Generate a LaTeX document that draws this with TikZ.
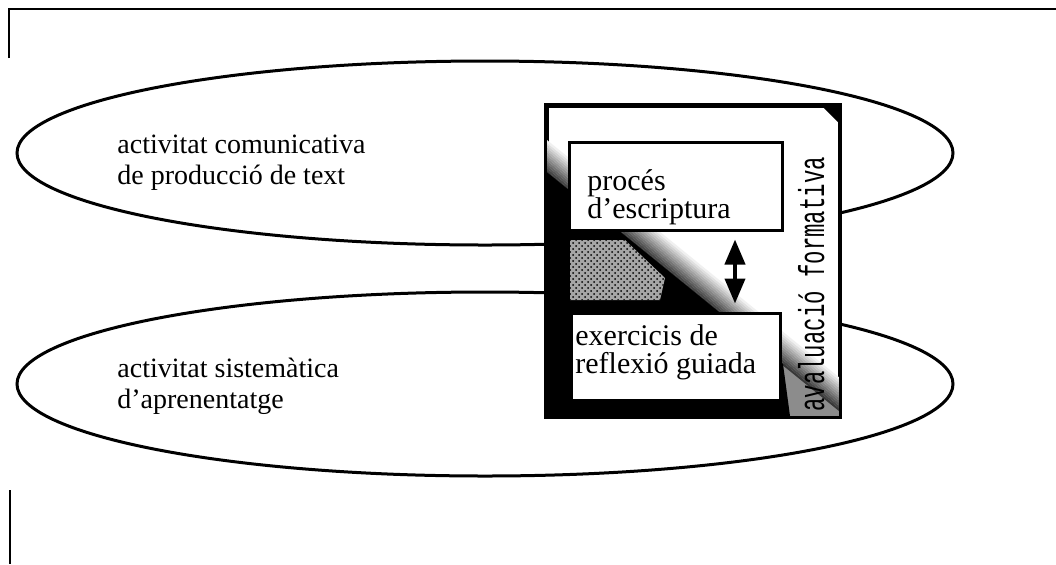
\documentclass[tikz,border=0pt]{standalone}
\usepackage{fontspec}
\setmainfont{Liberation Serif}
\newfontfamily\evalfont[FakeStretch=0.62]{Liberation Mono}
\usepackage{tikz}
\usetikzlibrary{shapes,arrows.meta,patterns}
\usetikzlibrary{positioning}
\tikzstyle{activitat} = [draw, ellipse, line width=1.5pt, inner sep=0pt,
    minimum width=468pt, minimum height=92pt]
\tikzstyle{block} = [rectangle, draw, fill=white, line width=1.5pt, inner sep=0pt]
\tikzstyle{ellipse text} = [align=left, anchor=base west, inner sep=0pt,
    font=\fontsize{14}{15.5}\selectfont]
\tikzstyle{block text} = [align=left, anchor=base west, inner sep=0pt,
    font=\fontsize{15}{14}\selectfont]
\tikzstyle{frame} = [line width=1.3pt]
\tikzstyle{doublearrow} = [draw, line width=2pt, shorten <=4pt, shorten >=4pt,
    {Triangle[length=12.5pt,width=10pt]}-{Triangle[length=12.5pt,width=10pt]}]
\begin{document}
\begin{tikzpicture}[x=0.5pt, y=-0.5pt]
  \useasboundingbox (0,0) rectangle (1056,564);
  % Frame
  \draw[frame] (9,58) -- (9,9) -- (1056,9);
  \draw[frame] (10,490) -- (10,564);
  % Place activities
  \node [activitat] (comunicativa) at (485,153) {};
  \node [activitat] (sistematica) at (485,384) {};
  \node [ellipse text] (comtext) at (117,184) {activitat comunicativa\\de producció de text};
  \node [ellipse text] (sistext) at (117,408) {activitat sistemàtica\\d’aprenentatge};
  % Evaluation box
  \node [block, minimum width=146pt, minimum height=155pt] (avaluacio) at (693,261) {};
  \begin{scope}
    \clip (547,106) rectangle (839,416);
    \fill[black!45] (469,109) -- (917,473) -- (917,520) -- (469,520) -- cycle;
    \foreach \d in {0,...,12} {
      \pgfmathsetmacro\g{78-6*\d}
      \draw[black!\g, line width=1.1pt, shift={(1.264*\d,-1.55*\d)}] (469,109) -- (917,473);
    }
    \fill (469,109) -- (783,364) -- (790,416) -- (469,416) -- cycle;
    \fill[black!35, postaction={pattern=crosshatch dots, pattern color=black}]
      (570,240) -- (625,240) -- (665,278) -- (660,300) -- (570,300) -- cycle;
    \fill (822,106) -- (839,106) -- (839,123) -- cycle;
  \end{scope}
  \draw[line width=1.5pt] (avaluacio.north west) rectangle (avaluacio.south east);
  % Place blocks
  \node [block, minimum width=106.5pt, minimum height=44pt] (proces) at (675.5,186) {};
  \node [block, minimum width=104.5pt, minimum height=43.5pt] (exercicis) at (675.5,356.5) {};
  \node [block text] (procestext) at (587,218) {procés\\d’escriptura};
  \node [block text] (exertext) at (575,373) {exercicis de\\reflexió guiada};
  % Draw edges
  \coordinate (arrowx) at (735,0);
  \path[doublearrow] (proces.south -| arrowx) -- (exercicis.north -| arrowx);
  \node [rotate=90, anchor=base west, inner sep=0pt,
         font=\evalfont\fontsize{18}{18}\selectfont] (avaltext) at (824,412) {avaluació formativa};
\end{tikzpicture}
\end{document}
